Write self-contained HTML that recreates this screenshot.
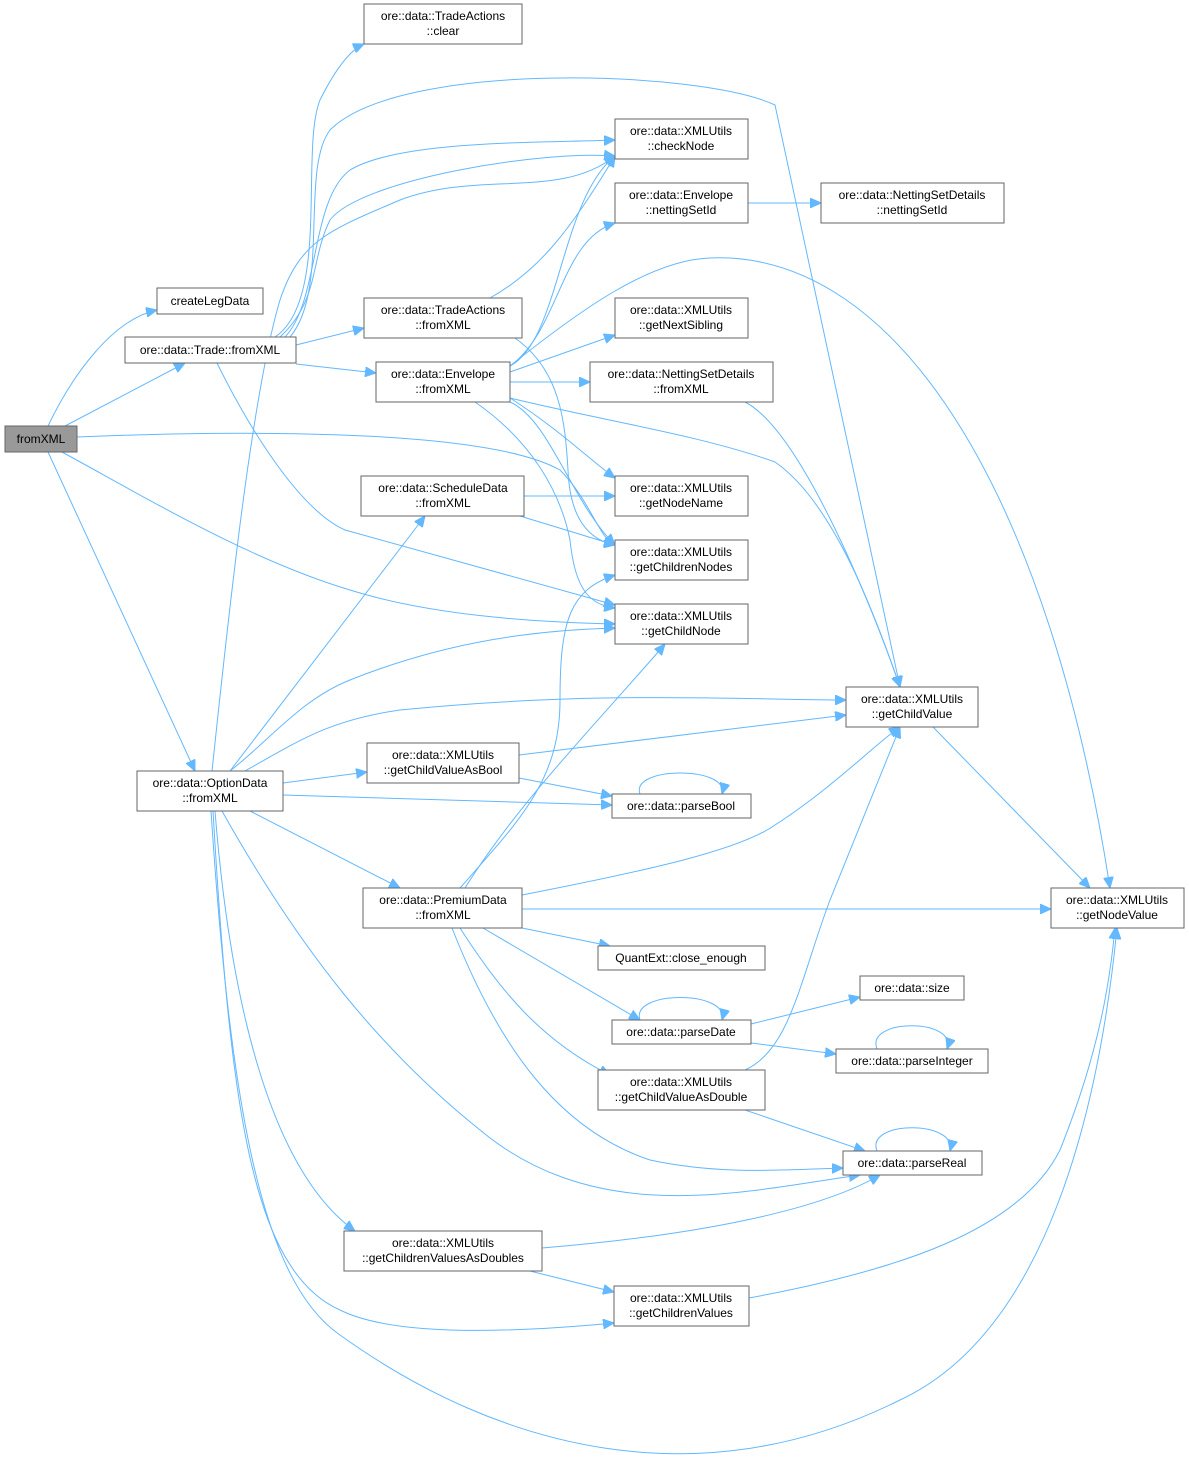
<!DOCTYPE html>
<html><head><meta charset="utf-8"><style>
html,body{margin:0;padding:0;background:#fff;}
svg text{font-family:"Liberation Sans",sans-serif;font-size:12px;fill:#000;}
.n{fill:#fff;stroke:#666;stroke-width:1;}
.e{fill:none;stroke:#63b8ff;stroke-width:1;}
</style></head><body>
<svg width="1189" height="1463" viewBox="0 0 1189 1463" xmlns="http://www.w3.org/2000/svg">
<defs><marker id="a" markerWidth="12" markerHeight="10" refX="11" refY="5" orient="auto" markerUnits="userSpaceOnUse"><path d="M0,0 L11,5 L0,10 z" fill="#63b8ff" stroke="#63b8ff"/></marker></defs>
<g class="e" marker-end="url(#a)">
<path d="M48,426 C70,380 110,320 157,310"/>
<path d="M65,426 L185,363"/>
<path d="M48,452 L195,771"/>
<path d="M77,437 C200,432 480,425 560,470 C590,500 600,540 615,545"/>
<path d="M62,452 C150,500 250,560 350,590 C430,615 530,622 615,624"/>
<path d="M275,337 C330,300 300,150 320,100 C335,70 350,50 364,44"/>
<path d="M280,337 C320,300 310,260 330,220 C360,180 540,150 615,156"/>
<path d="M285,337 C320,300 310,200 350,170 C400,140 540,143 615,140"/>
<path d="M290,337 C330,290 300,170 330,130 C400,60 700,70 775,105 L900,687"/>
<path d="M296,345 L364,328"/>
<path d="M296,364 L376,373"/>
<path d="M217,363 C250,430 300,510 345,530 L615,605"/>
<path d="M490,298 C540,270 570,230 615,156"/>
<path d="M515,338 C560,370 565,420 568,470 C570,520 590,540 615,545"/>
<path d="M510,366 C560,340 560,200 615,156"/>
<path d="M510,366 C560,330 560,240 615,223"/>
<path d="M510,366 C580,310 650,260 710,258 C900,250 1050,500 1110,888"/>
<path d="M510,372 L615,335"/>
<path d="M510,382 L590,382"/>
<path d="M510,398 C560,430 590,460 615,478"/>
<path d="M510,402 C550,420 570,500 615,545"/>
<path d="M510,398 C600,420 700,435 775,462 C830,500 870,600 900,687"/>
<path d="M475,402 C530,440 560,490 570,540 C575,590 590,605 615,608"/>
<path d="M748,203 L821,203"/>
<path d="M745,402 C800,430 870,600 900,687"/>
<path d="M524,496 L615,496"/>
<path d="M520,516 L615,545"/>
<path d="M933,727 L1090,888"/>
<path d="M230,771 L425,516"/>
<path d="M212,771 C225,650 250,400 280,300 C300,240 330,230 400,200 C480,170 560,200 615,156"/>
<path d="M230,771 C270,740 300,700 350,680 C450,640 540,630 615,628"/>
<path d="M245,771 C300,740 330,720 400,710 C600,690 750,700 846,700"/>
<path d="M283,783 L367,772"/>
<path d="M283,795 L612,805"/>
<path d="M250,811 L400,888"/>
<path d="M222,811 C300,950 380,1050 480,1130 C600,1230 750,1190 860,1175"/>
<path d="M215,811 C230,1000 270,1170 355,1231"/>
<path d="M213,811 C230,1100 250,1270 340,1310 C400,1340 540,1330 614,1323"/>
<path d="M211,811 C230,1100 260,1280 340,1335 C500,1450 700,1500 900,1400 C1050,1330 1100,1100 1117,928"/>
<path d="M519,755 L846,715"/>
<path d="M519,778 L612,796"/>
<path d="M640,794 C630,766 730,766 722,794"/>
<path d="M460,888 C520,820 560,780 560,700 C560,620 570,590 615,575"/>
<path d="M465,888 C520,800 600,720 665,644"/>
<path d="M522,895 C650,870 740,850 775,825 C830,790 880,740 900,727"/>
<path d="M522,909 L1051,909"/>
<path d="M522,928 L610,946"/>
<path d="M483,928 L640,1020"/>
<path d="M460,928 C500,990 540,1040 610,1075"/>
<path d="M452,928 C500,1050 560,1130 650,1160 C720,1175 780,1170 843,1168"/>
<path d="M640,1020 C630,990 730,990 722,1020"/>
<path d="M751,1024 L860,997"/>
<path d="M751,1043 L836,1054"/>
<path d="M877,1049 C865,1018 958,1018 947,1049"/>
<path d="M745,1070 C790,1050 800,980 830,900 L900,727"/>
<path d="M745,1110 L865,1151"/>
<path d="M877,1151 C865,1120 958,1120 950,1151"/>
<path d="M542,1248 C700,1235 820,1210 880,1175"/>
<path d="M530,1271 L614,1292"/>
<path d="M749,1298 C900,1270 1020,1230 1060,1150 C1100,1050 1110,980 1115,928"/>
</g>
<g>
<rect x="5" y="426" width="72" height="26" fill="#999" stroke="#666"/><text x="41" y="443" text-anchor="middle">fromXML</text>
<rect class="n" x="157" y="288" width="106" height="26"/><text x="210" y="305" text-anchor="middle">createLegData</text>
<rect class="n" x="125" y="337" width="171" height="26"/><text x="210" y="354" text-anchor="middle">ore::data::Trade::fromXML</text>
<rect class="n" x="364" y="4" width="158" height="40"/><text x="443" y="20" text-anchor="middle">ore::data::TradeActions</text><text x="443" y="35" text-anchor="middle">::clear</text>
<rect class="n" x="615" y="119" width="133" height="40"/><text x="681" y="135" text-anchor="middle">ore::data::XMLUtils</text><text x="681" y="150" text-anchor="middle">::checkNode</text>
<rect class="n" x="615" y="183" width="133" height="40"/><text x="681" y="199" text-anchor="middle">ore::data::Envelope</text><text x="681" y="214" text-anchor="middle">::nettingSetId</text>
<rect class="n" x="821" y="183" width="183" height="40"/><text x="912" y="199" text-anchor="middle">ore::data::NettingSetDetails</text><text x="912" y="214" text-anchor="middle">::nettingSetId</text>
<rect class="n" x="364" y="298" width="158" height="40"/><text x="443" y="314" text-anchor="middle">ore::data::TradeActions</text><text x="443" y="329" text-anchor="middle">::fromXML</text>
<rect class="n" x="376" y="362" width="134" height="40"/><text x="443" y="378" text-anchor="middle">ore::data::Envelope</text><text x="443" y="393" text-anchor="middle">::fromXML</text>
<rect class="n" x="615" y="298" width="133" height="40"/><text x="681" y="314" text-anchor="middle">ore::data::XMLUtils</text><text x="681" y="329" text-anchor="middle">::getNextSibling</text>
<rect class="n" x="590" y="362" width="183" height="40"/><text x="681" y="378" text-anchor="middle">ore::data::NettingSetDetails</text><text x="681" y="393" text-anchor="middle">::fromXML</text>
<rect class="n" x="361" y="476" width="163" height="40"/><text x="443" y="492" text-anchor="middle">ore::data::ScheduleData</text><text x="443" y="507" text-anchor="middle">::fromXML</text>
<rect class="n" x="615" y="476" width="133" height="40"/><text x="681" y="492" text-anchor="middle">ore::data::XMLUtils</text><text x="681" y="507" text-anchor="middle">::getNodeName</text>
<rect class="n" x="615" y="540" width="133" height="40"/><text x="681" y="556" text-anchor="middle">ore::data::XMLUtils</text><text x="681" y="571" text-anchor="middle">::getChildrenNodes</text>
<rect class="n" x="615" y="604" width="133" height="40"/><text x="681" y="620" text-anchor="middle">ore::data::XMLUtils</text><text x="681" y="635" text-anchor="middle">::getChildNode</text>
<rect class="n" x="846" y="687" width="132" height="40"/><text x="912" y="703" text-anchor="middle">ore::data::XMLUtils</text><text x="912" y="718" text-anchor="middle">::getChildValue</text>
<rect class="n" x="367" y="743" width="152" height="40"/><text x="443" y="759" text-anchor="middle">ore::data::XMLUtils</text><text x="443" y="774" text-anchor="middle">::getChildValueAsBool</text>
<rect class="n" x="137" y="771" width="146" height="40"/><text x="210" y="787" text-anchor="middle">ore::data::OptionData</text><text x="210" y="802" text-anchor="middle">::fromXML</text>
<rect class="n" x="612" y="794" width="139" height="24"/><text x="681" y="810" text-anchor="middle">ore::data::parseBool</text>
<rect class="n" x="363" y="888" width="159" height="40"/><text x="443" y="904" text-anchor="middle">ore::data::PremiumData</text><text x="443" y="919" text-anchor="middle">::fromXML</text>
<rect class="n" x="1051" y="888" width="133" height="40"/><text x="1117" y="904" text-anchor="middle">ore::data::XMLUtils</text><text x="1117" y="919" text-anchor="middle">::getNodeValue</text>
<rect class="n" x="598" y="946" width="167" height="24"/><text x="681" y="962" text-anchor="middle">QuantExt::close_enough</text>
<rect class="n" x="860" y="976" width="104" height="24"/><text x="912" y="992" text-anchor="middle">ore::data::size</text>
<rect class="n" x="612" y="1020" width="139" height="24"/><text x="681" y="1036" text-anchor="middle">ore::data::parseDate</text>
<rect class="n" x="836" y="1049" width="152" height="24"/><text x="912" y="1065" text-anchor="middle">ore::data::parseInteger</text>
<rect class="n" x="598" y="1070" width="167" height="40"/><text x="681" y="1086" text-anchor="middle">ore::data::XMLUtils</text><text x="681" y="1101" text-anchor="middle">::getChildValueAsDouble</text>
<rect class="n" x="843" y="1151" width="139" height="24"/><text x="912" y="1167" text-anchor="middle">ore::data::parseReal</text>
<rect class="n" x="344" y="1231" width="198" height="40"/><text x="443" y="1247" text-anchor="middle">ore::data::XMLUtils</text><text x="443" y="1262" text-anchor="middle">::getChildrenValuesAsDoubles</text>
<rect class="n" x="614" y="1286" width="135" height="40"/><text x="681" y="1302" text-anchor="middle">ore::data::XMLUtils</text><text x="681" y="1317" text-anchor="middle">::getChildrenValues</text>
</g>
</svg>
</body></html>
